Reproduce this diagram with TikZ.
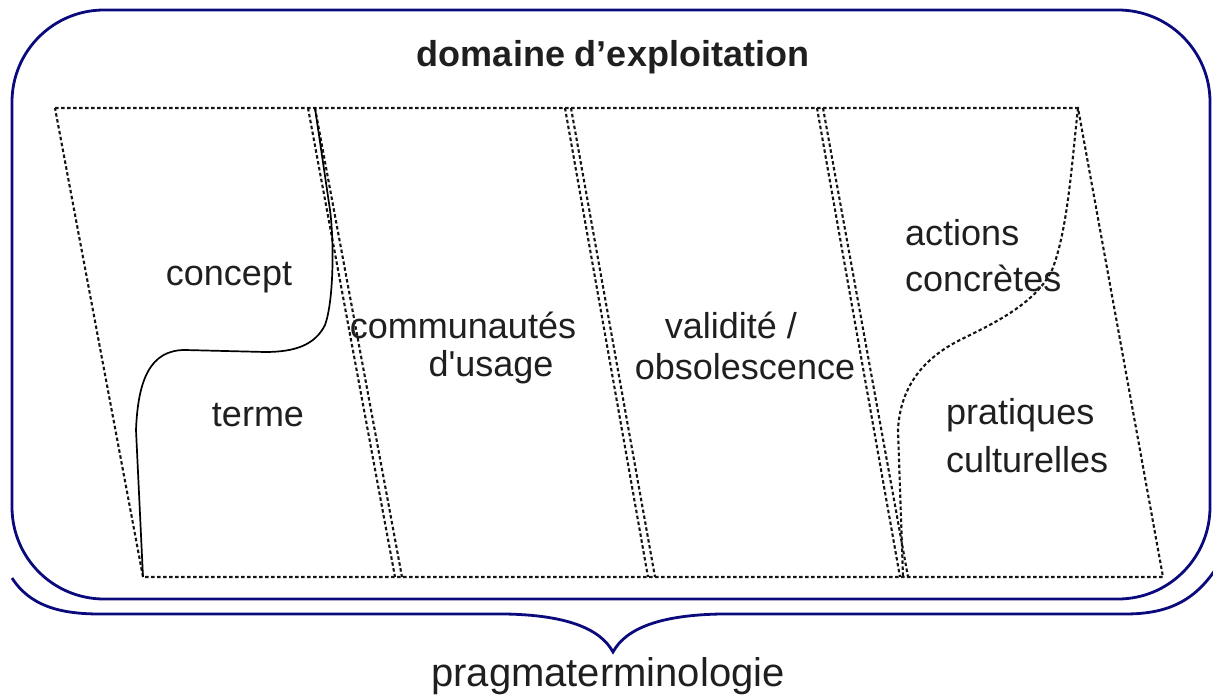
\documentclass[tikz,border=0pt]{standalone}
\usepackage{fontspec}
\setmainfont{Liberation Sans}
\definecolor{navy}{RGB}{10,10,125}
\definecolor{dotgray}{RGB}{20,20,20}
\begin{document}
\begin{tikzpicture}[x=1pt,y=-1pt,
  frame/.style={draw=navy,line width=2.8pt},
  dotline/.style={draw=dotgray,line width=2.1pt,dash pattern=on 3.5pt off 2.5pt},
  lbl/.style={font=\fontsize{36}{44}\selectfont,text=black!88,inner sep=0pt},
  lblL/.style={lbl,anchor=west}]
\useasboundingbox (0,0) rectangle (1213,698);
\begin{scope}
\clip (0,0) rectangle (1213,698);
% outer rounded frame
\draw[frame,rounded corners=92pt] (12,10) rectangle (1210,599);
% brace
\draw[frame] (12,578) .. controls (30,606) and (60,614) .. (100,614) -- (505,614)
  .. controls (565,615) and (600,628) .. (613,652)
  .. controls (626,628) and (661,615) .. (721,614) -- (1125,614)
  .. controls (1170,614) and (1200,600) .. (1224,555);
\end{scope}
% corners of the strip
\coordinate (TL) at (55,108);
\coordinate (TR) at (1078,108);
\coordinate (BL) at (143,577);
\coordinate (BR) at (1163,577);
\coordinate (a1) at (308,108); \coordinate (b1) at (395,577);
\coordinate (a1b) at (315,108); \coordinate (b1b) at (402,577);
\coordinate (a2) at (565,108); \coordinate (b2) at (648,577);
\coordinate (a2b) at (571,108); \coordinate (b2b) at (655,577);
\coordinate (a3) at (817,108); \coordinate (b3) at (900,577);
\coordinate (a3b) at (823,108); \coordinate (b3b) at (908,577);
\draw[dotline] (TL) -- (TR) -- (BR) -- (BL) -- cycle;
\draw[dotline] (a1) -- (b1); \draw[dotline] (a1b) -- (b1b);
\draw[dotline] (a2) -- (b2); \draw[dotline] (a2b) -- (b2b);
\draw[dotline] (a3) -- (b3); \draw[dotline] (a3b) -- (b3b);
% solid S-curve
\draw[black,line width=1.7pt] (a1b) -- (330,210) .. controls (334,240) and (334,300) .. (325,325)
  .. controls (315,345) and (295,352) .. (265,352) -- (185,350)
  .. controls (150,350) and (138,380) .. (136,430) -- (BL);
% dotted S-curve
\draw[dotline] (TR) .. controls (1072,160) and (1068,230) .. (1052,270)
  .. controls (1035,305) and (990,325) .. (960,340)
  .. controls (920,360) and (900,390) .. (898,430) -- (903,577);
% labels
\node[lbl,font=\bfseries\fontsize{36}{44}\selectfont] (dom) at (613,57) {domaine d’exploitation};
\node[lbl] (concept) at (229,278) {concept};
\node[lbl] (terme) at (258,415) {terme};
\node[lbl] (comm) at (463,325) {communautés};
\node[lbl] (usage) at (491,367) {d\textquotesingle usage};
\node[lbl] (valid) at (731,325) {validité /};
\node[lbl] (obs) at (745,367) {obsolescence};
\node[lblL] (act) at (905,233) {actions};
\node[lblL] (conc) at (905,278) {concrètes};
\node[lblL] (prat) at (946,415) {pratiques};
\node[lblL] (cult) at (946,460) {culturelles};
\node[lbl,font=\fontsize{40}{48}\selectfont] (pragma) at (608,676) {pragmaterminologie};
\end{tikzpicture}
\end{document}
